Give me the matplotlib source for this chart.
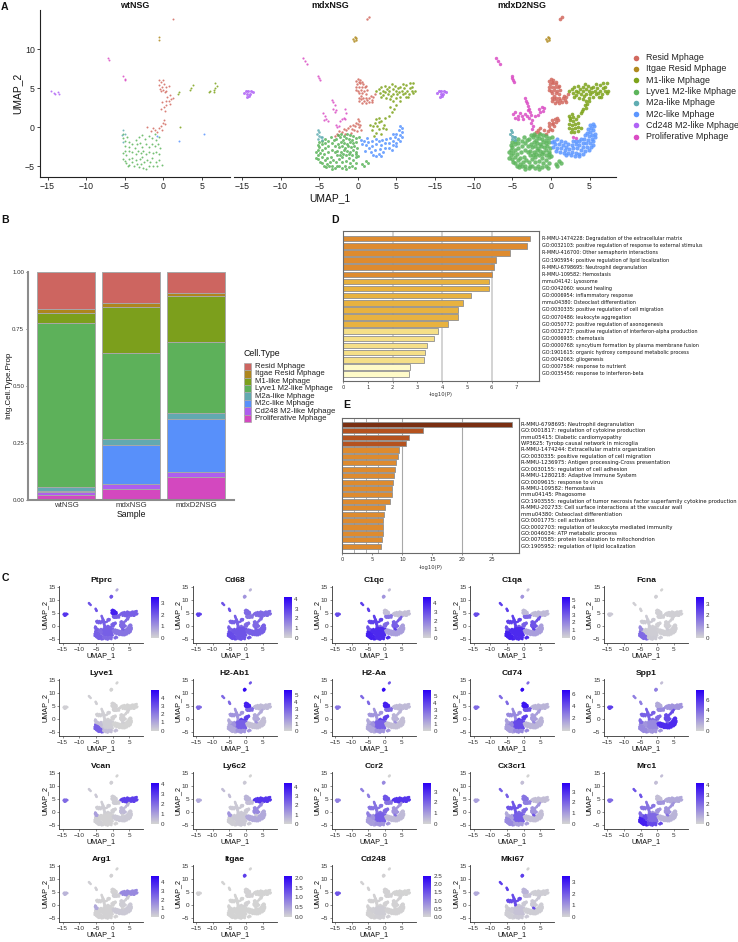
import numpy as np
import matplotlib
matplotlib.use("Agg")
import matplotlib.pyplot as plt
from matplotlib.colors import LinearSegmentedColormap, Normalize
from matplotlib.cm import ScalarMappable
from matplotlib.patches import Rectangle

plt.rcParams['font.family'] = ['Liberation Sans', 'DejaVu Sans']

W, H = 738, 942
CELL_TYPES = ["Resid Mphage", "Itgae Resid Mphage", "M1-like Mphage", "Lyve1 M2-like Mphage",
              "M2a-like Mphage", "M2c-like Mphage", "Cd248 M2-like Mphage", "Proliferative Mphage"]
TYPE_COLORS = ["#D2695F", "#B08A1E", "#7DA31A", "#5DB55C", "#60ADB2", "#5B96FF", "#B063F5", "#DA4CC4"]

SAMPLES = ["wtNSG", "mdxNSG", "mdxD2NSG"]

# ---- UMAP points (densest sample) ----
RT = [(-.3,5.9),(0,6.2),(.3,6),(-.1,5.5),(.3,5.6),(.7,5.5),(-.3,5.1),(.1,5.1),(.5,5.2),(.9,5.1),(1.1,5.3),(0,4.7),(.4,4.8),(.8,4.7),(1.2,4.8),(.2,4.4),(.6,4.4),(1,4.3),(.4,4),(.1,5.8),(-.2,4.8),(.6,5.8)]
RL = [(.2,3.3),(.5,3.1),(.8,3.4),(1,3.1),(.4,3.6),(.7,3.7),(1.2,3.5),(1.4,3.2),(1.5,3.7),(1.8,3.5),(1.7,4),(2,3.9),(2.2,4.2),(1,3.8),(.1,3.7),(1.9,3.2)]
RM = [(-.2,.1),(.1,.4),(.4,.2),(.7,.7),(.5,1),(.8,1.2),(.1,.9),(.3,.6),(-.1,-.2),(.2,-.3),(-.4,-.5),(-.7,-.8),(-.9,-.4),(-1.4,-.1),(-1.7,-.4),(-1.9,-.6),(-1.5,-.7),(.9,.9),(-.3,.5),(-2.2,-1)]
IT = [(-.6,11.3),(-.4,11.6),(-.3,11.2),(-.5,11),(-.2,11.4)]
TP = [(1.2,13.8),(1.4,14.1)]
M1T = [(2.4,4.6),(2.7,4.9),(2.9,4.4),(3,5.1),(3.2,4.7),(3.3,4.1),(3.5,5.3),(3.5,4.5),(3.7,3.8),(3.8,4.9),(3.9,4.2),(4.1,5.2),(4.1,4.6),(4.2,3.6),(4.3,4),(4.5,4.9),(4.6,4.3),(4.6,3.4),(4.8,5.3),(4.9,4.6),(4.9,3.8),(5.1,4.2),(5.2,5),(5.3,4.5),(5.5,3.9),(5.5,5.2),(5.7,4.7),(5.8,4.2),(6,5),(6.1,4.4),(6.2,3.9),(6.3,5.4),(6.4,4.7),(6.6,4.2),(6.7,5),(6.8,5.6),(7,4.6),(7,5.2),(7.2,4.4),(7.2,5.7),(3,3.9),(5.9,5.5),(6.5,3.9),(7.4,4.7),(4.4,5.5)]
M1L = [(4.9,3.4),(4.7,3),(4.4,2.8),(4.6,2.5),(4.2,2.4),(4,2.1),(3.9,1.8),(3.5,1.5),(2.4,1.5),(2.7,1.7),(2.9,1.3),(2.5,.9),(2.9,.8),(3.3,1),(2.3,.4),(2.7,.3),(3.1,.4),(3.5,.5),(2.3,-.1),(2.7,-.2),(3.1,-.1),(3.5,0),(3.9,-.1),(2.6,-.6),(3,-.6),(3.5,-.5),(2.5,1.2)]
M2C = [(5.1,.3),(5.4,.4),(5.6,.1),(5.2,-.1),(4.8,-.2),(5.5,-.4),(5.1,-.6),(4.7,-.7),(5.7,-.8),(5.3,-1),(4.9,-1.1),(4.4,-1),(5.7,-1.3),(5.3,-1.5),(4.8,-1.6),(4.3,-1.5),(3.9,-1.5),(5.5,-1.8),(5.1,-2),(4.6,-2),(4.1,-2),(3.6,-1.8),(3.2,-1.7),(2.8,-1.8),(5.2,-2.5),(4.7,-2.5),(4.2,-2.5),(3.7,-2.3),(3.2,-2.2),(2.7,-2.3),(2.2,-2.1),(1.8,-1.9),(1.3,-1.7),(.8,-1.5),(.4,-1.7),(.1,-1.9),(.5,-2.1),(1,-2.1),(1.5,-2.3),(2,-2.5),(.3,-2.5),(.8,-2.6),(1.3,-2.7),(1.8,-2.9),(2.4,-2.8),(2.9,-2.7),(3.4,-2.7),(3.9,-2.9),(4.4,-3),(4.9,-2.9),(.7,-3),(1.2,-3.2),(1.7,-3.3),(2.2,-3.3),(2.7,-3.2),(3.2,-3.3),(3.7,-3.4),(4.2,-3.4),(2,-3.6),(2.6,-3.6),(3.1,-3.7),(3.6,-3.7),(5.4,-2.3)]
LL = [(-5.4,-3.2),(-5.2,-3.6),(-5.4,-3.9),(-5.1,-4.1),(-5.2,-2.9),(-4.9,-3.3),(-4.7,-3.8),(-4.9,-4.4),(-4.6,-4.6),(-4.3,-4.2),(-4.4,-4.9),(-4,-4.7),(-4.1,-5.1),(-3.7,-5),(-3.6,-4.5),(-3.3,-4.9),(-3.3,-5.3),(-2.9,-5.2),(-4.4,-3.4),(-4,-3.9),(-5,-2.5),(-4.6,-2.9),(-5.2,-2.3),(-5,-1.9),(-4.7,-2.2),(-4.3,-2.6),(-3.9,-3.2),(-3.5,-3.8),(-3.2,-4.2)]
LO = [(-4.6,-1.8),(-4.2,-2),(-3.8,-2.4),(-3.4,-2.9),(-4.2,-1.5),(-3.8,-1.7),(-3.4,-2),(-3.5,-1.3),(-3.1,-1.6),(-3,-2.4),(-3,-3.2),(-2.7,-3.6),(-2.8,-4.5),(-2.4,-4.1),(-2.4,-4.9),(-2,-5.2),(-2,-4.5),(-1.7,-4.9),(-1.5,-5.4),(-1.2,-5.1),(-1.5,-4.3),(-1,-4.6),(-.7,-5),(-.6,-4.2),(-.3,-4.6),(-1.1,-3.9),(.6,-4.7),(1,-4.3),(1.3,-4.6),(.8,-4.9),(-.2,-3.8),(-.4,-5.2),(-2,-3.8),(-2.7,-4.9)]
LC = [(-2.6,-1),(-2.2,-.8),(-1.8,-1.1),(-1.4,-.9),(-1,-1),(-.6,-1.1),(-2.8,-1.5),(-2.3,-1.3),(-1.9,-1.6),(-1.5,-1.4),(-1.1,-1.5),(-.7,-1.6),(-.3,-1.4),(.1,-1.3),(-2.6,-2.1),(-2.2,-1.9),(-1.8,-2),(-1.4,-2.1),(-1,-1.9),(-.6,-2),(-.2,-1.9),(-2.5,-2.5),(-2.1,-2.4),(-1.7,-2.6),(-1.3,-2.4),(-.9,-2.5),(-.5,-2.4),(-.1,-2.6),(-2.7,-3),(-2.2,-3.1),(-1.8,-2.9),(-1.4,-3),(-1,-3.1),(-.6,-2.9),(-.2,-3.1),(-2.3,-3.5),(-1.9,-3.4),(-1.5,-3.6),(-1.1,-3.4),(-.7,-3.5),(-.3,-3.4),(0,-3.7)]
M2A = [(-5.2,-.3),(-5,-.6),(-5.3,-.8),(-5,-1.1),(-4.8,-1.3),(-5.1,-1.5),(-4.7,-1.6),(-4.6,-1.2)]
CD = [(-14.7,4.4),(-14.5,4.7),(-14.2,4.6),(-13.9,4.7),(-13.6,4.5),(-14.3,4.2),(-14,4.3),(-14.4,3.9),(-14.1,4)]
PR = [(-3.3,3.8),(-3.2,3.4),(-3.1,3.1),(-3,2.7),(-2.8,2.4),(-2.7,2),(-3,2.2),(-2.6,1.6),(-2.8,1.2),(-2.5,.9),(-2.6,.5),(-2.3,.1),(-2.5,-.2),(-4.9,1.7),(-4.6,1.9),(-4.3,1.5),(-4,1.8),(-3.7,1.4),(-4.7,1.2),(-4.2,1),(-3.4,1.7),(-3.1,1.5),(-3.6,1),(-1.5,2.4),(-1.2,2.6),(-1.4,2),(-1,2.1),(-1.7,1.6),(-2.1,1.4),(-.9,2.5),(2.9,-1.2),(3.2,-1.4)]
PX = [(-5.1,6.6),(-5,6.3),(-4.9,6),(-4.8,5.8),(-7.1,8.8),(-6.9,8.5),(-6.6,8.1)]

# ---- mdxNSG points that differ from the densest sample ----
MDX_RM = [(-3,-1.1),(-2.7,-.8),(-2.4,-.5),(-2.6,-1),(-2,-.6),(-1.8,-.2),(-1.5,-.4),(-1.3,-.1),(-1.6,-.8),(-1,.1),(-.8,-.2),(-.6,.3),(-.4,.1),(-.5,-.4),(-.2,.6),(0,.4),(.2,.8),(.1,0),(.3,.3),(-.9,-.7),(.4,-.3),(0,1),(-.1,-.5)]
MDX_PR = [(-3.3,3.5),(-3.2,3.2),(-3,2.9),(-3.2,2.4),(-2.8,2.2),(-3,1.9),(-1.6,2.3),(-1.5,1.8),(-1.8,1.2),(-2.1,1.1),(-2.3,.8),(-4.5,1.8),(-4.3,1.4),(-4.1,1.1),(-4.4,.9),(-3.9,.8),(-2.8,.3),(-2.7,0),(-2.4,.1),(-1.6,1.1)]
MDX_M1L = [(3.5,1.2),(4,1.5),(4.4,2),(4.7,2.4),(5,2.9),(5.4,3.3),(4.2,2.6),(2.8,1.2),(2.4,1),(2.7,.7),(3,.8),(2.2,.5),(2.5,.2),(3.4,.3),(2,.1),(2.8,-.2),(3.2,-.1),(3.6,-.2),(1.8,-.4),(2.4,-.7),(3,-.8),(2.1,-1.1),(1.6,.3)]
MDX_M2C = [(5.4,.1),(5.7,-.1),(5.3,-.4),(5.7,-.6),(5,-.8),(5.4,-1),(5.7,-1.2),(4.8,-1.3),(5.2,-1.5),(5.5,-1.8),(4.5,-1.7),(4.9,-2),(4.2,-1.4),(3.7,-1.5),(4,-2),(4.5,-2.3),(5,-2.4),(3.5,-2),(3.1,-1.6),(2.7,-1.8),(3,-2.3),(3.5,-2.7),(4,-2.6),(2.3,-1.5),(1.9,-1.7),(2.4,-2.2),(2.9,-2.8),(3.3,-3.2),(2.7,-3.4),(2.2,-2.9),(1.8,-2.4),(1.3,-1.9),(1.4,-2.7),(1,-2.3),(.8,-1.7),(.4,-1.6),(.5,-2.2),(.9,-3),(1.7,-3.1),(2,-3.5),(2.4,-3.7),(3,-3.7),(1.2,-1.4),(4.6,-.9),(4.4,-2.9)]

# ---- wtNSG points ----
WT_RESID = [(-.6,6),(-.3,5.8),(-.1,6),(-.5,5.4),(-.2,5.2),(.1,5.5),(.3,5.1),(-.4,4.9),(0,4.8),(.4,4.7),(.7,5.3),(.2,4.5),(-.3,4.6),(.9,4.1),(.5,3.9),(1,3.6),(1.3,3.8),(.7,3.4),(.3,3.3),(-.2,3.2),(.9,3),(.4,2.9),(.1,2.6),(-.3,2.3),(.2,2.1),(.1,.9),(-.1,.6),(.2,.4),(-.3,.2),(-.5,-.1),(-.2,-.3),(-1.4,-.1),(-1.1,-.3),(-1.6,-.5),(-.8,-.6),(-2.1,.05)]
WT_M1 = [(6.7,5.6),(6.9,5.3),(6.7,5),(6.6,4.8),(6.5,4.5),(5.9,4.5),(6.1,4.7),(3.9,5.4),(3.6,5),(3.5,4.8),(2,4.5),(1.9,4.2),(2.1,0)]
WT_LYVE = [(-5.2,-.9),(-5.2,-1.4),(-5,-1.8),(-4.7,-1.2),(-4.5,-1.9),(-4.9,-2.4),(-4.4,-2.5),(-4.9,-3),(-4.5,-3),(-5.2,-3.3),(-4,-2.1),(-3.6,-1.6),(-3.2,-1.3),(-2.8,-1),(-2.4,-1.5),(-1.9,-1.1),(-1.5,-1.4),(-1.1,-.9),(-.9,-1.6),(-.6,-1.2),(-3.7,-2.6),(-3.4,-2.1),(-3,-2),(-2.7,-2.5),(-2.3,-2.2),(-1.9,-2.5),(-1.5,-2.1),(-1.1,-2.4),(-.7,-2.2),(-.4,-2.6),(-4.1,-3.2),(-3.6,-3.4),(-3.3,-3),(-2.9,-3.3),(-2.6,-3),(-2.2,-3.4),(-1.8,-3.1),(-1.4,-3.3),(-1,-3.1),(-.6,-3.4),(-5.2,-4),(-5,-4.3),(-4.8,-4.6),(-4.5,-4.1),(-4.4,-4.8),(-4.1,-3.9),(-4,-4.5),(-3.8,-5),(-3.6,-4.2),(-3.4,-4.7),(-3.2,-5.1),(-3,-4.1),(-2.9,-4.7),(-2.6,-5.2),(-2.5,-4.5),(-2.2,-5.4),(-2.1,-4.2),(-1.9,-5),(-1.7,-4.5),(-1.5,-3.9),(-1.3,-5),(-1,-4.4),(-.8,-4.9),(-.5,-4.2),(-.2,-4.8),(-4.8,-3.6),(-4.6,-5),(-2.8,-3.8)]
WT_M2A = [(-5.2,-.4),(-5.3,-1),(-4.9,-.9),(-5.2,-1.9)]
WT_M2C = [(5.25,-.8),(2,-1.7),(-.8,-1.1)]
WT_CD = [(-14.5,4.6),(-14.2,4.4),(-13.6,4.5),(-13.5,4.2),(-14,4.2)]
WT_ITG = [(-.6,11.6),(-.5,11.2)]
WT_PR = [(-7.2,8.8),(-7,8.6),(-5.2,6.5),(-5,6.2),(-4.9,6.1)]

PANEL_POINTS = {
    "wtNSG": [WT_RESID + TP[:1], WT_ITG, WT_M1, WT_LYVE, WT_M2A, WT_M2C, WT_CD, WT_PR],
    "mdxNSG": [RT + RL + MDX_RM + TP, IT, M1T + MDX_M1L, LL + LO + LC, M2A, MDX_M2C, CD, MDX_PR + PX[:3] + PX[4:]],
    "mdxD2NSG": [RT + RL + RM + TP, IT, M1T + M1L, LL + LO + LC, M2A, M2C, CD, PR + PX],
}
PANEL_MARKER = {"wtNSG": [2.0]*8,
                "mdxNSG": [3.0, 3.0, 3.5, 4.5, 3.5, 4.5, 4.5, 2.5],
                "mdxD2NSG": [7, 3.5, 7, 10, 5, 9, 5, 6]}

# ---- proportions (cumulative tops, bottom to top) ----
STACK_ORDER = [7, 6, 5, 4, 3, 2, 1, 0]
CUM_WT = [.022, .032, .037, .055, .775, .82, .835, 1.0]
CUM_MDX = [.048, .068, .24, .267, .645, .847, .862, 1.0]
CUM_D2 = [.10, .123, .355, .38, .69, .895, .905, 1.0]
BAR_COLORS = ["#CD6560", "#AE861E", "#7C9F1C", "#5DB15A", "#62A9B0", "#5890FA", "#AE5EEE", "#D348BF"]

# ---- enrichment ----
D_TERMS = ["R-MMU-1474228: Degradation of the extracellular matrix",
 "GO:0032103: positive regulation of response to external stimulus",
 "R-MMU-416700: Other semaphorin interactions",
 "GO:1905954: positive regulation of lipid localization",
 "R-MMU-6798695: Neutrophil degranulation",
 "R-MMU-109582: Hemostasis",
 "mmu04142: Lysosome",
 "GO:0042060: wound healing",
 "GO:0006954: inflammatory response",
 "mmu04380: Osteoclast differentiation",
 "GO:0030335: positive regulation of cell migration",
 "GO:0070486: leukocyte aggregation",
 "GO:0050772: positive regulation of axonogenesis",
 "GO:0032727: positive regulation of interferon-alpha production",
 "GO:0006935: chemotaxis",
 "GO:0000768: syncytium formation by plasma membrane fusion",
 "GO:1901615: organic hydroxy compound metabolic process",
 "GO:0042063: gliogenesis",
 "GO:0007584: response to nutrient",
 "GO:0035456: response to interferon-beta"]
D_VALUES = [7.55, 7.4, 6.75, 6.15, 6.07, 6.02, 5.9, 5.9, 5.17, 4.85, 4.65, 4.65, 4.25, 3.83, 3.65, 3.37, 3.3, 3.25, 2.72, 2.65]
D_COLORS = ["#DE8B2F"]*6 + ["#E8B23F"]*7 + ["#F5DF88"]*5 + ["#FFFBC8"]*2

E_TERMS = ["R-MMU-6798695: Neutrophil degranulation",
 "GO:0001817: regulation of cytokine production",
 "mmu05415: Diabetic cardiomyopathy",
 "WP3625: Tyrobp causal network in microglia",
 "R-MMU-1474244: Extracellular matrix organization",
 "GO:0030335: positive regulation of cell migration",
 "R-MMU-1236975: Antigen processing-Cross presentation",
 "GO:0030155: regulation of cell adhesion",
 "R-MMU-1280218: Adaptive Immune System",
 "GO:0009615: response to virus",
 "R-MMU-109582: Hemostasis",
 "mmu04145: Phagosome",
 "GO:1903555: regulation of tumor necrosis factor superfamily cytokine production",
 "R-MMU-202733: Cell surface interactions at the vascular wall",
 "mmu04380: Osteoclast differentiation",
 "GO:0001775: cell activation",
 "GO:0002703: regulation of leukocyte mediated immunity",
 "GO:0046034: ATP metabolic process",
 "GO:0070585: protein localization to mitochondrion",
 "GO:1905952: regulation of lipid localization"]
E_VALUES = [28.2, 13.4, 11.1, 10.6, 9.5, 9.3, 8.9, 8.85, 8.6, 8.5, 8.35, 8.2, 7.9, 7.05, 7.0, 6.8, 6.8, 6.75, 6.6, 6.5]
E_COLORS = ["#7A2F12"] + ["#B5521F"]*3 + ["#DE8B2F"]*16

# ---- feature plots: relative expression per region ----
REGIONS = [RT, RL, RM, IT, TP, M1T, M1L, LL, LO, LC, M2A, M2C, CD, PR, PX]
#            RT   RL   RM   IT   TP   M1T  M1L  LL   LO   LC   M2A  M2C  CD   PR   PX
GENES = {
 "Ptprc":  [.85, .55, .55, .60, .20, .55, .50, .55, .50, .55, .55, .45, .75, .55, .60],
 "Cd68":   [.50, .45, .50, .30, .15, .50, .50, .65, .60, .60, .55, .55, .70, .55, .60],
 "C1qc":   [.10, .45, .50, .30, .10, .10, .55, .85, .80, .80, .60, .25, .65, .70, .70],
 "C1qa":   [.12, .50, .55, .30, .10, .12, .60, .85, .80, .80, .60, .25, .65, .70, .70],
 "Fcna":   [.02, .02, .02, .02, .00, .02, .02, .50, .04, .03, .35, .02, .05, .04, .02],
 "Lyve1":  [.01, .01, .01, .00, .00, .00, .01, .55, .10, .03, .10, .00, .02, .02, .02],
 "H2-Ab1": [.85, .50, .70, .95, .60, .12, .20, .20, .30, .55, .20, .10, .50, .30, .50],
 "H2-Aa":  [.85, .50, .70, .95, .60, .12, .15, .20, .30, .55, .20, .10, .45, .30, .50],
 "Cd74":   [.90, .60, .70, .95, .50, .15, .25, .25, .35, .65, .25, .15, .50, .35, .50],
 "Spp1":   [.20, .35, .50, .40, .10, .30, .65, .35, .30, .35, .50, .80, .70, .55, .40],
 "Vcan":   [.03, .03, .02, .02, .00, .70, .12, .02, .01, .01, .25, .05, .50, .03, .05],
 "Ly6c2":  [.15, .10, .05, .05, .00, .75, .35, .03, .05, .05, .30, .20, .20, .05, .10],
 "Ccr2":   [.60, .45, .50, .35, .00, .75, .30, .25, .30, .55, .40, .12, .40, .45, .40],
 "Cx3cr1": [.45, .40, .50, .10, .00, .10, .30, .35, .25, .55, .20, .10, .25, .60, .55],
 "Mrc1":   [.10, .30, .30, .10, .10, .20, .30, .85, .65, .50, .50, .15, .50, .45, .60],
 "Arg1":   [.01, .02, .01, .01, .00, .35, .03, .01, .01, .01, .20, .05, .15, .01, .02],
 "Itgae":  [.01, .01, .01, .70, .00, .00, .00, .00, .00, .00, .00, .00, .01, .00, .00],
 "Cd248":  [.01, .01, .01, .01, .00, .00, .01, .01, .02, .03, .01, .01, .60, .01, .01],
 "Mki67":  [.15, .08, .05, .70, .00, .03, .05, .03, .05, .08, .03, .03, .20, .65, .70],
}
GENE_MAX = {"Ptprc": 3.5, "Cd68": 4.2, "C1qc": 4.7, "C1qa": 5.3, "Fcna": 3.6, "Lyve1": 4.9, "H2-Ab1": 5.7,
            "H2-Aa": 5.9, "Cd74": 6.6, "Spp1": 7.9, "Vcan": 4.1, "Ly6c2": 4.4, "Ccr2": 3.8, "Cx3cr1": 3.8,
            "Mrc1": 4.2, "Arg1": 4.7, "Itgae": 2.1, "Cd248": 2.5, "Mki67": 3.5}
GENE_TICKS = {"Ptprc": [0,1,2,3], "Cd68": [0,1,2,3,4], "C1qc": [0,1,2,3,4], "C1qa": [0,1,2,3,4,5], "Fcna": [0,1,2,3],
              "Lyve1": [0,1,2,3,4], "H2-Ab1": [0,1,2,3,4,5], "H2-Aa": [0,1,2,3,4,5], "Cd74": [0,2,4,6], "Spp1": [0,2,4,6],
              "Vcan": [0,1,2,3,4], "Ly6c2": [0,1,2,3,4], "Ccr2": [0,1,2,3], "Cx3cr1": [0,1,2,3], "Mrc1": [0,1,2,3,4],
              "Arg1": [0,1,2,3,4], "Itgae": [0.0,0.5,1.0,1.5,2.0], "Cd248": [0.0,0.5,1.0,1.5,2.0,2.5], "Mki67": [0,1,2,3]}

fig = plt.figure(figsize=(W/100, H/100), dpi=100)
fig.patch.set_facecolor('white')

def ax_px(l, t, r, b):
    return fig.add_axes([l/W, 1-b/H, (r-l)/W, (b-t)/H])

ov = fig.add_axes([0, 0, 1, 1], zorder=10)
ov.set_xlim(0, W); ov.set_ylim(H, 0); ov.axis('off'); ov.patch.set_alpha(0)

for txt, x, y in [("A", 5, 6.5), ("B", 5, 220), ("C", 5, 578), ("D", 335, 220), ("E", 347, 405)]:
    ov.text(x, y, txt, fontsize=7.6, fontweight='bold', ha='center', va='center', color='#111')

# ---------- Panel A ----------
A_BOX = [(39.8, 229.6), (234.3, 425.5), (427.4, 615.7)]
for i, (name, (l, r)) in enumerate(zip(SAMPLES, A_BOX)):
    ax = ax_px(l, 10, r, 177.3)
    ax.set_xlim(-16, -16 + (r-l)/7.72)
    ax.set_ylim(-6.4, 15)
    for pts, col, ms in zip(PANEL_POINTS[name], TYPE_COLORS, PANEL_MARKER[name]):
        arr = np.array(pts)
        ax.scatter(arr[:, 0], arr[:, 1], s=ms, color=col, linewidths=0, alpha=.85)
    for s in ['top', 'right']:
        ax.spines[s].set_visible(False)
    ax.spines['bottom'].set_linewidth(.8); ax.spines['bottom'].set_color('#222')
    ax.set_xticks([-15, -10, -5, 0, 5])
    ax.tick_params(axis='x', labelsize=6.3, length=2, width=.6, pad=1.5, colors='#222')
    if i == 0:
        ax.set_yticks([-5, 0, 5, 10])
        ax.tick_params(axis='y', labelsize=6.3, length=2, width=.6, pad=1.5, colors='#222')
        ax.spines['left'].set_linewidth(.8); ax.spines['left'].set_color('#222')
        ax.set_ylabel("UMAP_2", fontsize=7.4, labelpad=2, color='#111')
    else:
        ax.spines['left'].set_visible(False)
        ax.set_yticks([])
    if i == 1:
        ax.set_xlabel("UMAP_1", fontsize=7.4, labelpad=1.5, color='#111')
    ax.set_title(name, fontsize=6.4, fontweight='bold', pad=1.5, color='#111')

for k, (lab, col) in enumerate(zip(CELL_TYPES, TYPE_COLORS)):
    yy = 57.7 + k*11.28
    ov.scatter([635.7], [yy], s=16, color=col, linewidths=0)
    ov.text(646, yy, lab, fontsize=6.4, va='center', color='#222')

# ---------- Panel B ----------
ax = ax_px(28.3, 271.7, 234.3, 499.7)
for xi, cum in enumerate([CUM_WT, CUM_MDX, CUM_D2]):
    low = 0
    for top, idx in zip(cum, STACK_ORDER):
        ax.bar(xi, top-low, bottom=low, width=.895, color=BAR_COLORS[idx], edgecolor='#A8A8A8', linewidth=.7)
        low = top
ax.set_xlim(-.585, 2.585)
ax.set_ylim(0, 1)
for s in ['top', 'right']:
    ax.spines[s].set_visible(False)
for s in ['left', 'bottom']:
    ax.spines[s].set_linewidth(1.5); ax.spines[s].set_color('#8C8C8C')
ax.set_xticks(range(3)); ax.set_xticklabels(SAMPLES)
ax.set_yticks([0, .25, .5, .75, 1]); ax.set_yticklabels(["0.00", "0.25", "0.50", "0.75", "1.00"])
ax.tick_params(axis='x', labelsize=5.6, length=0, pad=2, colors='#333')
ax.tick_params(axis='y', labelsize=4.4, length=1.5, width=.5, pad=1.5, colors='#333')
ax.set_xlabel("Sample", fontsize=6.2, labelpad=.5, color='#111')
ax.set_ylabel("Intg.Cell.Type.Prop", fontsize=5.7, labelpad=0, color='#111')
ov.text(243, 354, "Cell.Type", fontsize=6.3, va='center', color='#111')
for k, (lab, col) in enumerate(zip(CELL_TYPES, BAR_COLORS)):
    yy = 362.7 + k*7.44
    ov.add_patch(Rectangle((243.5, yy), 7.2, 7.44, facecolor=col, edgecolor='#A8A8A8', linewidth=.5))
    ov.text(255, yy+3.7, lab, fontsize=5.6, va='center', color='#222')

# ---------- Panels D, E ----------
def enrich(box, vals, cols, terms, xticks, grid, pitch, y0, px_unit, barh, fs, lx):
    l, t, r, b = box
    a = ax_px(l, t, r, b)
    a.set_xlim(0, (r-l)/px_unit)
    a.set_ylim((b-y0)/pitch, (t-y0)/pitch)
    for g, gc, gw in grid:
        a.axvline(g, color=gc, lw=gw, zorder=1)
    ys = np.arange(len(vals))
    a.barh(ys, vals, height=barh, color=cols, edgecolor='#8F8F8F', linewidth=.6, zorder=2)
    a.set_yticks([])
    a.set_xticks(xticks)
    a.tick_params(axis='x', labelsize=3.8, length=1.5, width=.4, pad=1.5, colors='#333')
    plt.setp(a.get_xticklabels(), family='DejaVu Sans')
    for s in a.spines.values():
        s.set_linewidth(.8); s.set_color('#6A6A6A')
    a.set_xlabel("-log10(P)", fontsize=3.8, family='DejaVu Sans', labelpad=1.5, color='#333')
    tr = a.get_yaxis_transform()
    for yi, term in zip(ys, terms):
        a.text(lx, yi, term, transform=tr, fontsize=fs, family='DejaVu Sans', va='center', color='#111', clip_on=False)
    return a

enrich((343, 231, 539.3, 381), D_VALUES, D_COLORS, D_TERMS, range(8),
       [(2, '#C8C8C8', 1.1), (4, '#C8C8C8', 1.1), (6, '#C8C8C8', 1.1)], 7.12, 238.7, 24.8, .78, 3.5, 1.014)
enrich((342.3, 418, 519.3, 553.3), E_VALUES, E_COLORS, E_TERMS, [0, 5, 10, 15, 20, 25],
       [(2, '#A0A0A0', .6), (4, '#A0A0A0', .6), (6, '#A0A0A0', .6), (10, '#A8A8A8', .8), (20, '#A8A8A8', .8)], 6.42, 424.3, 6.0, .8, 3.8, 1.01)

# ---------- Panel C ----------
CMAP = LinearSegmentedColormap.from_list("feat", ["#D3D3D3", "#2B00F5"])
COL_X = [59.3, 192.7, 331.7, 470.3, 604]
ROW_Y = [585.7, 678.7, 771.7, 864.7]
gene_names = list(GENES)
for n, gene in enumerate(gene_names):
    row, col = n // 5, n % 5
    l, t = COL_X[col], ROW_Y[row]
    a = ax_px(l, t, l+84, t+57.6)
    a.set_xlim(-16, 9.2); a.set_ylim(-6.85, 15.6)
    for pts, lev in zip(REGIONS, GENES[gene]):
        arr = np.array(pts)
        a.scatter(arr[:, 0], arr[:, 1], s=3.4, c=[lev]*len(arr), cmap=CMAP, vmin=0, vmax=1, linewidths=0)
    for s in ['top', 'right']:
        a.spines[s].set_visible(False)
    for s in ['left', 'bottom']:
        a.spines[s].set_linewidth(.6); a.spines[s].set_color('#333')
    a.set_xticks([-15, -10, -5, 0, 5]); a.set_yticks([-5, 0, 5, 10, 15])
    a.tick_params(labelsize=4.6, length=1.5, width=.4, pad=1, colors='#333')
    a.set_xlabel("UMAP_1", fontsize=5.2, labelpad=.3, color='#111')
    a.set_ylabel("UMAP_2", fontsize=5.2, labelpad=0, color='#111')
    a.set_title(gene, fontsize=6.1, fontweight='bold', pad=2.5, color='#111')
    cax = ax_px(l+91.7, t+11.6, l+99.5, t+52)
    sm = ScalarMappable(norm=Normalize(0, GENE_MAX[gene]), cmap=CMAP)
    cb = fig.colorbar(sm, cax=cax, ticks=GENE_TICKS[gene])
    cb.outline.set_visible(False)
    cb.ax.tick_params(labelsize=4.5, length=0, pad=1.5, colors='#333')

fig.savefig("out.png", dpi=100)
